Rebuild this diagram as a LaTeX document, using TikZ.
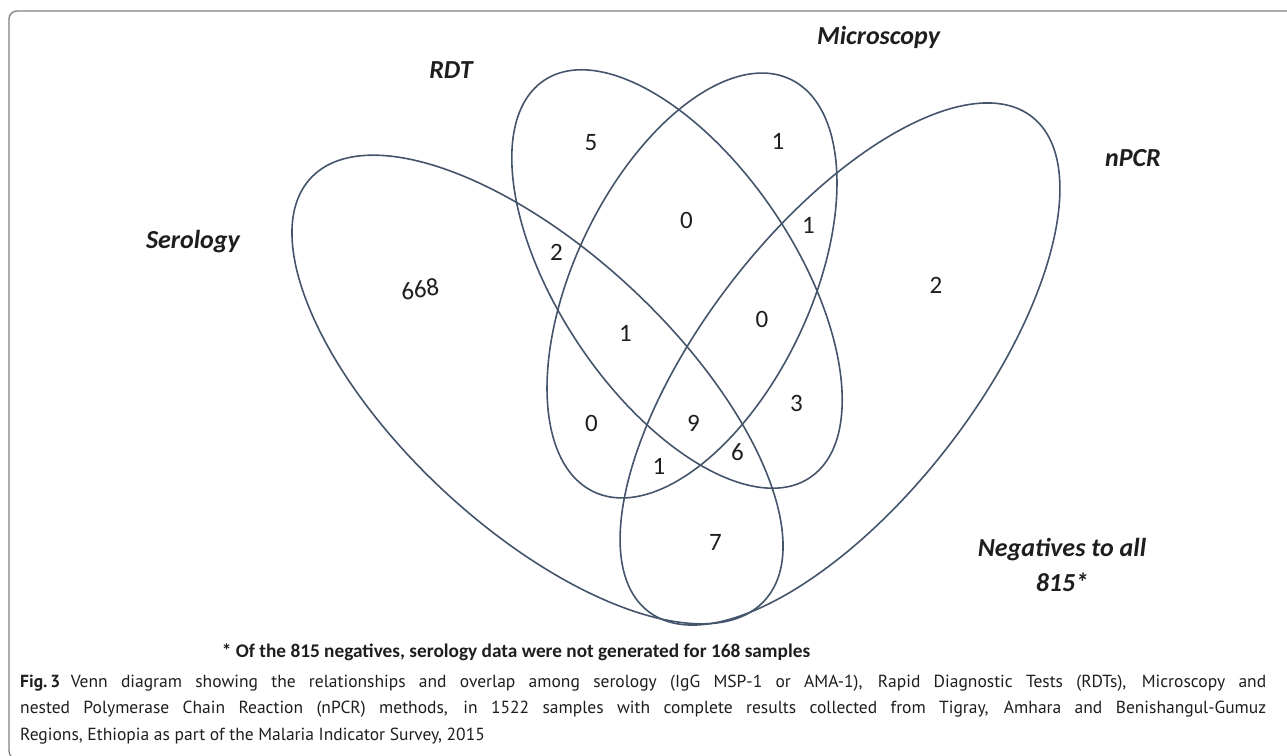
\documentclass[tikz,border=0pt]{standalone}
\usepackage{fontspec}
\setmainfont{PT Sans}
\newfontfamily\vennfont{Carlito}
\usepackage{tikz}
\usetikzlibrary{shapes.geometric, positioning}
\definecolor{ringline}{RGB}{68, 84, 106}
\definecolor{framegray}{RGB}{128, 128, 128}
\definecolor{inktext}{RGB}{30, 30, 30}
\tikzset{
  setring/.style 2 args={
    ellipse, draw=ringline, line width=1.6pt, inner sep=0pt,
    minimum width=#1, minimum height=#2
  },
  setname/.style={
    anchor=base, text=inktext, inner sep=0pt,
    font=\vennfont\bfseries\itshape\fontsize{26}{30}\selectfont
  },
  regioncount/.style={
    text=inktext, inner sep=0pt,
    font=\vennfont\fontsize{25}{30}\selectfont
  },
  notetext/.style={
    anchor=base west, text=inktext, inner sep=0pt,
    font=\vennfont\bfseries\fontsize{19.3}{23}\selectfont
  },
  captiontext/.style={
    anchor=base west, text=inktext, inner sep=0pt,
    text width=1246pt, align=justify,
    font=\fontsize{17.5}{26.5}\selectfont
  },
  framerule/.style={draw=framegray, line width=1.3pt, rounded corners=8pt}
}

\begin{document}
\begin{tikzpicture}[x=1pt, y=-1pt]
  \useasboundingbox (0,0) rectangle (1287,755);
  % Page frame, open on the right
  \draw[framerule] (1300,11) -- (9,11) -- (9,759) -- (1300,759);

  % The four sets
  \node[setring={620pt}{276pt}, rotate=-43] (sero) at (537.5,389.5) {};
  \node[setring={478pt}{236pt}, rotate=-56.2] (rdt) at (677,279) {};
  \node[setring={457pt}{236pt}, rotate=64.5] (micro) at (692,285.5) {};
  \node[setring={626pt}{272pt}, rotate=52.2] (npcr) at (840,364) {};

  % Set names
  \node[setname] (seroname) at (193,248) {Serology};
  \node[setname] (rdtname) at (451,78.3) {RDT};
  \node[setname] (microname) at (878.5,44.3) {Microscopy};
  \node[setname] (npcrname) at (1133,166) {nPCR};
  \node[setname] (negname) at (1062,556.7) {Negatives to all};
  \node[setname] (negcount) at ([yshift=-35pt]negname.base) {815*};

  % Region counts
  \node[regioncount, rotate=8] (seroonly) at (420,289) {668};
  \node[regioncount] (rdtonly) at (591,143) {5};
  \node[regioncount] (microonly) at (778,141) {1};
  \node[regioncount] (npcronly) at (936,285) {2};
  \node[regioncount] (rdtmicro) at (686.5,220) {0};
  \node[regioncount] (micronpcr) at (808.5,225) {1};
  \node[regioncount] (serordt) at (556.5,252) {2};
  \node[regioncount] (serordtmicro) at (625.5,333) {1};
  \node[regioncount] (rdtmicronpcr) at (762,319.5) {0};
  \node[regioncount] (rdtnpcr) at (796.5,403) {3};
  \node[regioncount] (seromicro) at (591.5,423) {0};
  \node[regioncount] (allfour) at (693.5,423) {9};
  \node[regioncount] (serordtnpcr) at (737.5,452.5) {6};
  \node[regioncount] (seromicronpcr) at (659,466) {1};
  \node[regioncount] (seronpcr) at (715.5,542.5) {7};

  % Footnote and caption
  \node[notetext] (note) at (221.7,657) {* Of the 815 negatives, serology data were not generated for 168 samples};
  \node[captiontext] (caption) at (20,687) {\hyphenpenalty=10000 \textbf{Fig.\,3}\hspace{0.6em}Venn diagram showing the relationships and overlap among serology (IgG MSP-1 or AMA-1), Rapid Diagnostic Tests (RDTs), Microscopy and\linebreak nested Polymerase Chain Reaction (nPCR) methods, in 1522 samples with complete results collected from Tigray, Amhara and Benishangul-Gumuz\linebreak Regions, Ethiopia as part of the Malaria Indicator Survey, 2015};
\end{tikzpicture}
\end{document}
